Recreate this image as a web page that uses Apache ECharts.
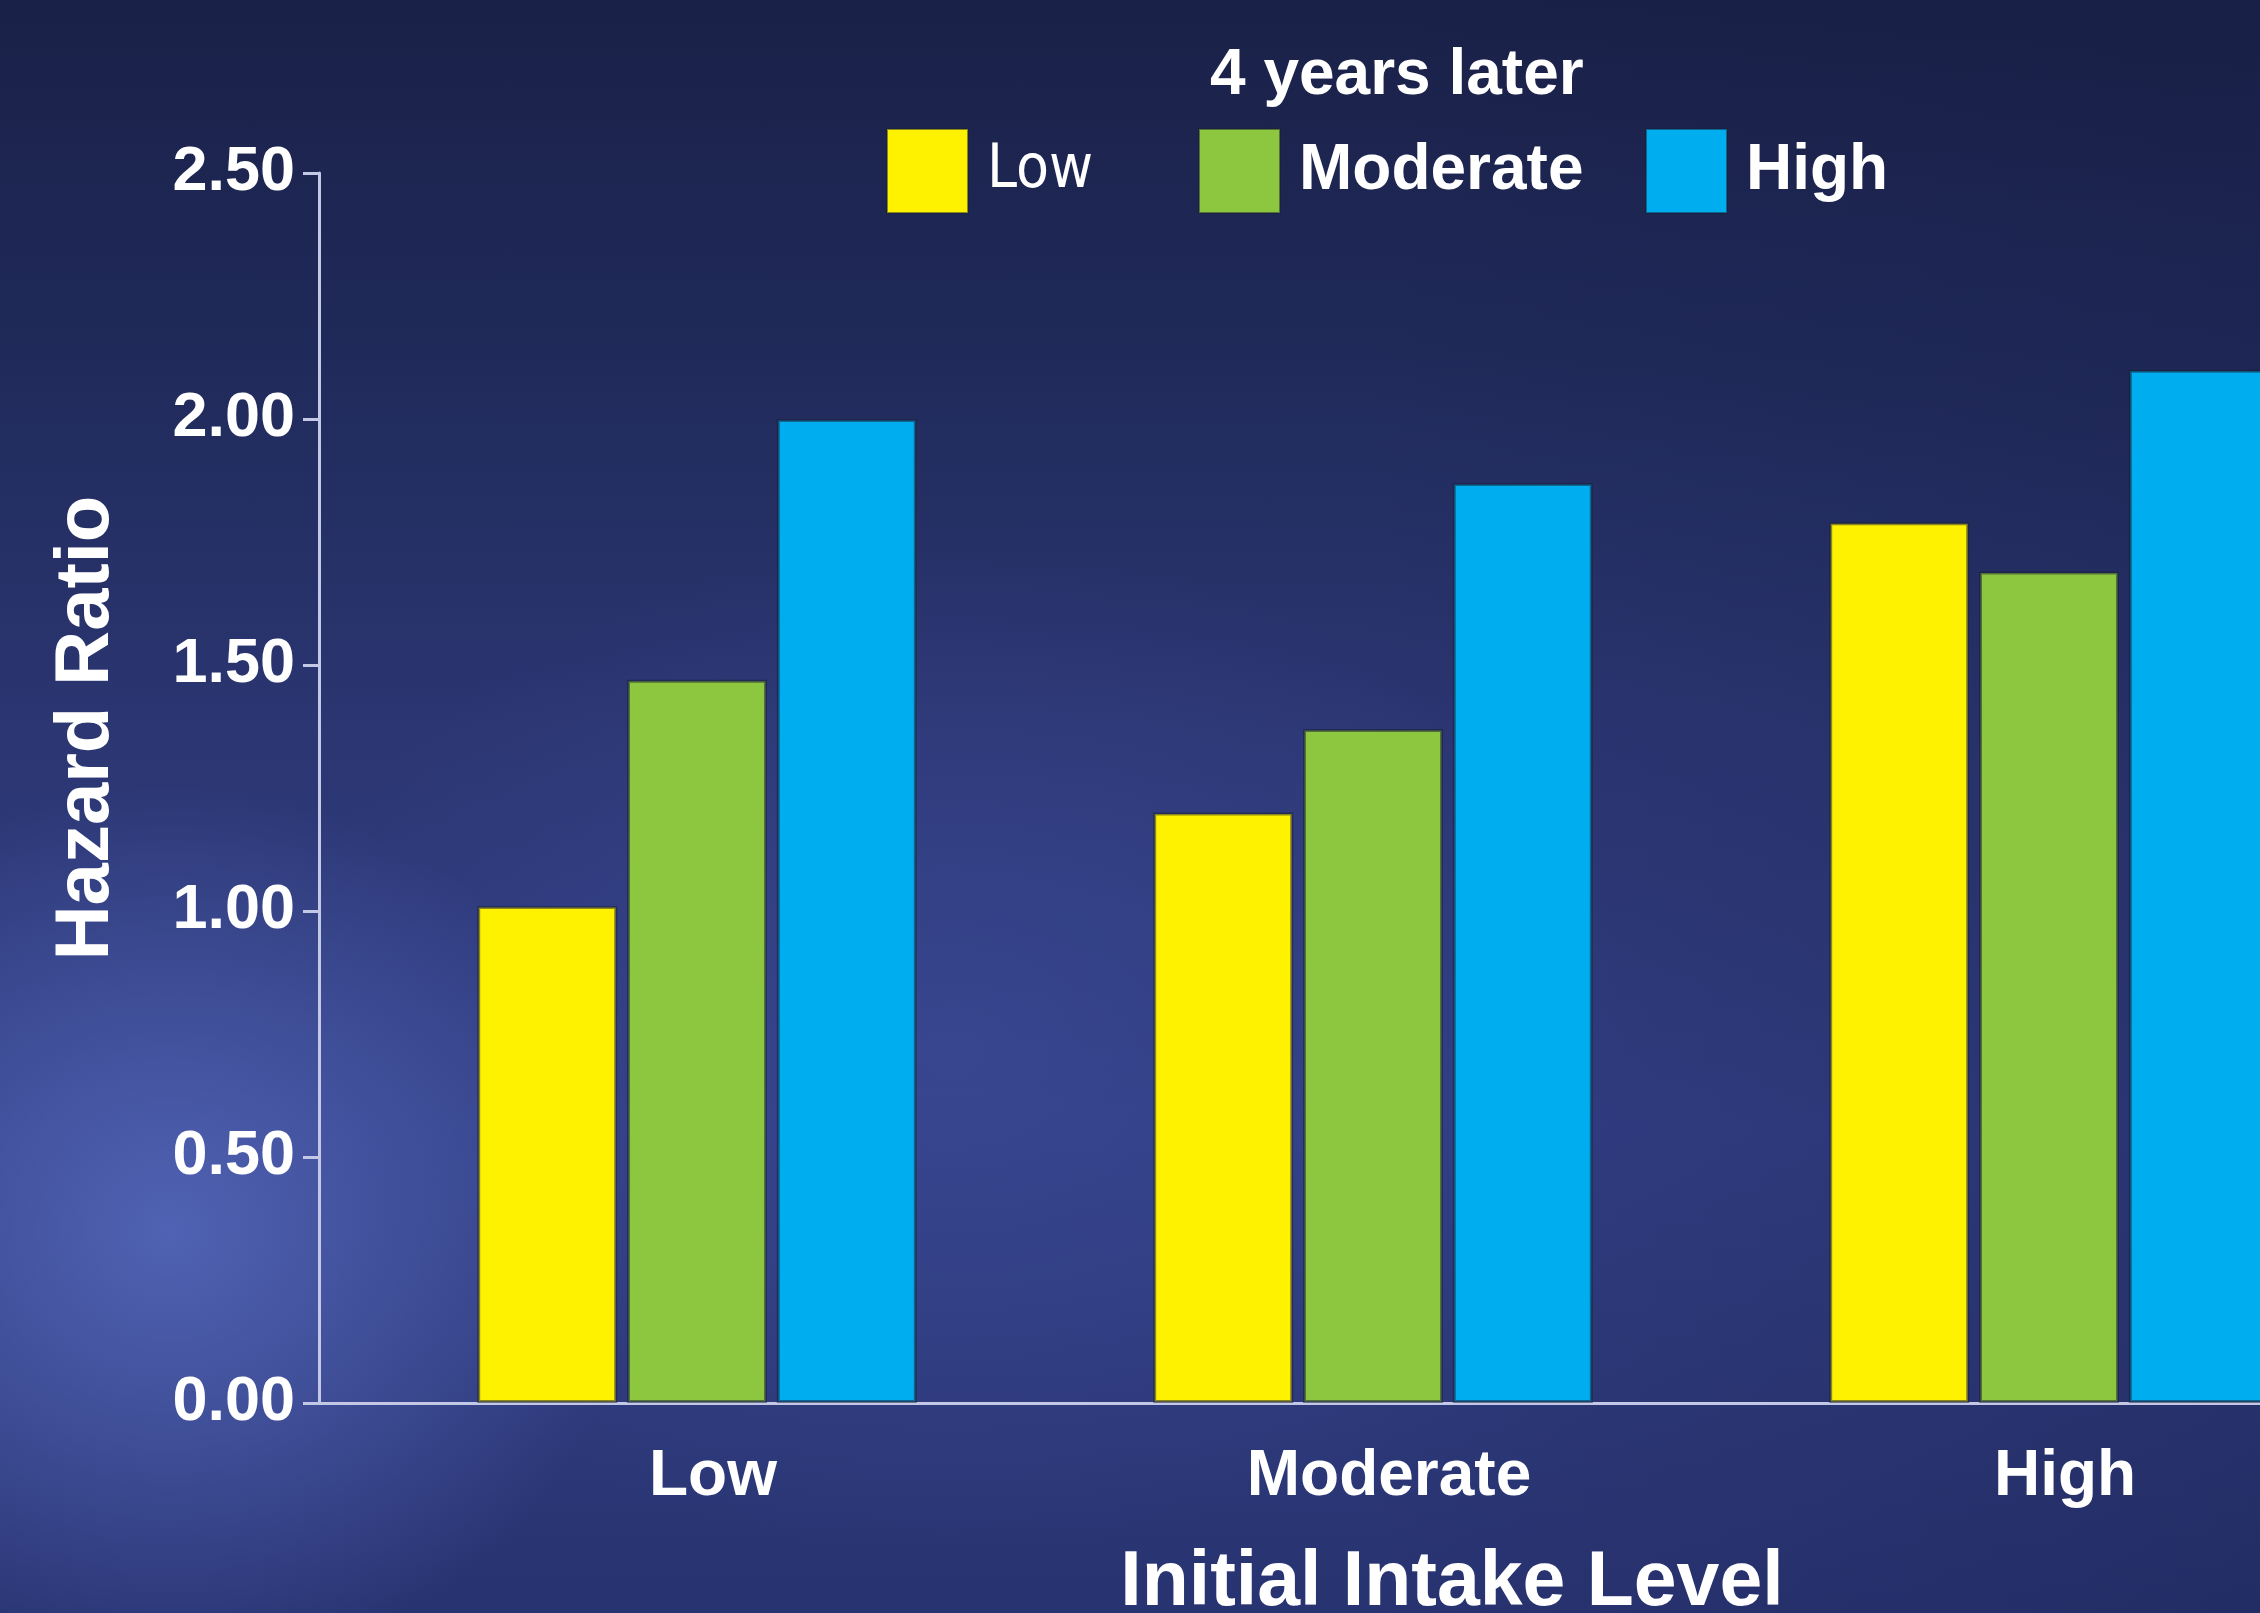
<!DOCTYPE html>
<html>
<head>
<meta charset="utf-8">
<title>Hazard Ratio by Initial Intake Level</title>
<script src="https://cdn.jsdelivr.net/npm/echarts@6/dist/echarts.min.js"></script>
<style>
  html, body { margin: 0; padding: 0; }
  #chart {
    width: 2260px;
    height: 1613px;
    background:
      radial-gradient(ellipse 650px 620px at 170px 1230px, rgba(82,100,182,0.95), rgba(82,100,182,0) 72%),
      radial-gradient(ellipse 950px 700px at 950px 1050px, rgba(62,78,156,0.55), rgba(62,78,156,0) 72%),
      linear-gradient(90deg, rgba(20,26,64,0) 60%, rgba(20,26,64,0.25) 100%),
      linear-gradient(180deg, #1a2148 0%, #202a5a 22%, #2b3672 45%, #303d82 70%, #2c3878 88%, #283371 100%);
  }
</style>
</head>
<body>
<div id="chart"></div>
<script>
// Initial intake level groups along the x axis
const categories = ['Low', 'Moderate', 'High'];

// Intake level 4 years later (one series each)
const laterLow = [1.01, 1.20, 1.79];
const laterModerate = [1.47, 1.37, 1.69];
const laterHigh = [2.00, 1.87, 2.10];

// Hazard ratio axis
const yMin = 0;
const yMax = 2.5;
const yStep = 0.5;

const FONT = "'Liberation Sans', Arial, Helvetica, sans-serif";
const NARROW = "'Liberation Sans Narrow', 'Arial Narrow', 'DejaVu Sans Condensed', sans-serif";
const AXIS_COLOR = '#c3c8e6';

const chart = echarts.init(document.getElementById('chart'), null, { renderer: 'canvas' });

const barStyle = (color) => ({
  color: color,
  borderColor: 'rgba(24,30,52,0.5)',
  borderWidth: 3
});

const legendBase = {
  top: 128,
  icon: 'rect',
  itemWidth: 81,
  itemHeight: 84,
  selectedMode: false,
  padding: 0,
  textStyle: { color: '#ffffff', fontFamily: FONT, fontWeight: 'bold', fontSize: 64, padding: [0, 0, 0, 14] }
};

chart.setOption({
  backgroundColor: 'transparent',
  animation: false,
  title: {
    text: '4 years later',
    left: 1210,
    top: 44,
    padding: 0,
    textStyle: { color: '#ffffff', fontFamily: FONT, fontWeight: 'bold', fontSize: 64 }
  },
  legend: [
    Object.assign({}, legendBase, {
      left: 886,
      data: [{ name: 'Low', textStyle: { fontFamily: NARROW, fontWeight: 'normal', fontSize: 60 } }]
    }),
    Object.assign({}, legendBase, { left: 1198, data: ['Moderate'] }),
    Object.assign({}, legendBase, { left: 1645, data: ['High'] })
  ],
  grid: [
    // frame carrying the hazard-ratio axis and the baseline
    { left: 319, right: 0, top: 173, bottom: 210, outerBoundsMode: 'none', containLabel: false },
    // bar area: bands start slightly right of the vertical axis and run past the right edge
    { left: 359, width: 2028, top: 173, bottom: 210, outerBoundsMode: 'none', containLabel: false }
  ],
  xAxis: [
    {
      gridIndex: 0,
      type: 'value',
      min: 0,
      max: 1,
      axisLine: { show: true, lineStyle: { color: AXIS_COLOR, width: 3 } },
      axisTick: { show: false },
      axisLabel: { show: false },
      splitLine: { show: false }
    },
    {
      gridIndex: 1,
      type: 'category',
      data: categories,
      axisLine: { show: false },
      axisTick: { show: false },
      axisLabel: {
        color: '#ffffff',
        fontFamily: FONT,
        fontWeight: 'bold',
        fontSize: 64,
        margin: 42,
        padding: [0, 0, 0, 32]
      },
      name: 'Initial Intake Level',
      nameLocation: 'middle',
      nameGap: 142,
      nameTextStyle: {
        color: '#ffffff',
        fontFamily: FONT,
        fontWeight: 'bold',
        fontSize: 77,
        padding: [0, 0, 0, 158]
      }
    }
  ],
  yAxis: [
    {
      gridIndex: 0,
      type: 'value',
      min: yMin,
      max: yMax,
      interval: yStep,
      axisLine: { show: true, lineStyle: { color: AXIS_COLOR, width: 3 } },
      axisTick: { show: true, length: 16, lineStyle: { color: AXIS_COLOR, width: 3 } },
      splitLine: { show: false },
      axisLabel: {
        color: '#ffffff',
        fontFamily: FONT,
        fontWeight: 'bold',
        fontSize: 63,
        margin: 24,
        formatter: (v) => v.toFixed(2)
      },
      name: 'Hazard Ratio',
      nameLocation: 'middle',
      nameGap: 194,
      nameTextStyle: {
        color: '#ffffff',
        fontFamily: FONT,
        fontWeight: 'bold',
        fontSize: 76,
        padding: [0, 0, 0, 120]
      }
    },
    {
      gridIndex: 1,
      type: 'value',
      min: yMin,
      max: yMax,
      interval: yStep,
      show: false
    }
  ],
  series: [
    {
      name: 'Low',
      type: 'bar',
      xAxisIndex: 1,
      yAxisIndex: 1,
      data: laterLow,
      barWidth: 140,
      barGap: '7%',
      itemStyle: barStyle('#fff200')
    },
    {
      name: 'Moderate',
      type: 'bar',
      xAxisIndex: 1,
      yAxisIndex: 1,
      data: laterModerate,
      barWidth: 140,
      barGap: '7%',
      itemStyle: barStyle('#8dc63f')
    },
    {
      name: 'High',
      type: 'bar',
      xAxisIndex: 1,
      yAxisIndex: 1,
      data: laterHigh,
      barWidth: 140,
      barGap: '7%',
      itemStyle: barStyle('#00aeef')
    }
  ]
});
</script>
</body>
</html>
